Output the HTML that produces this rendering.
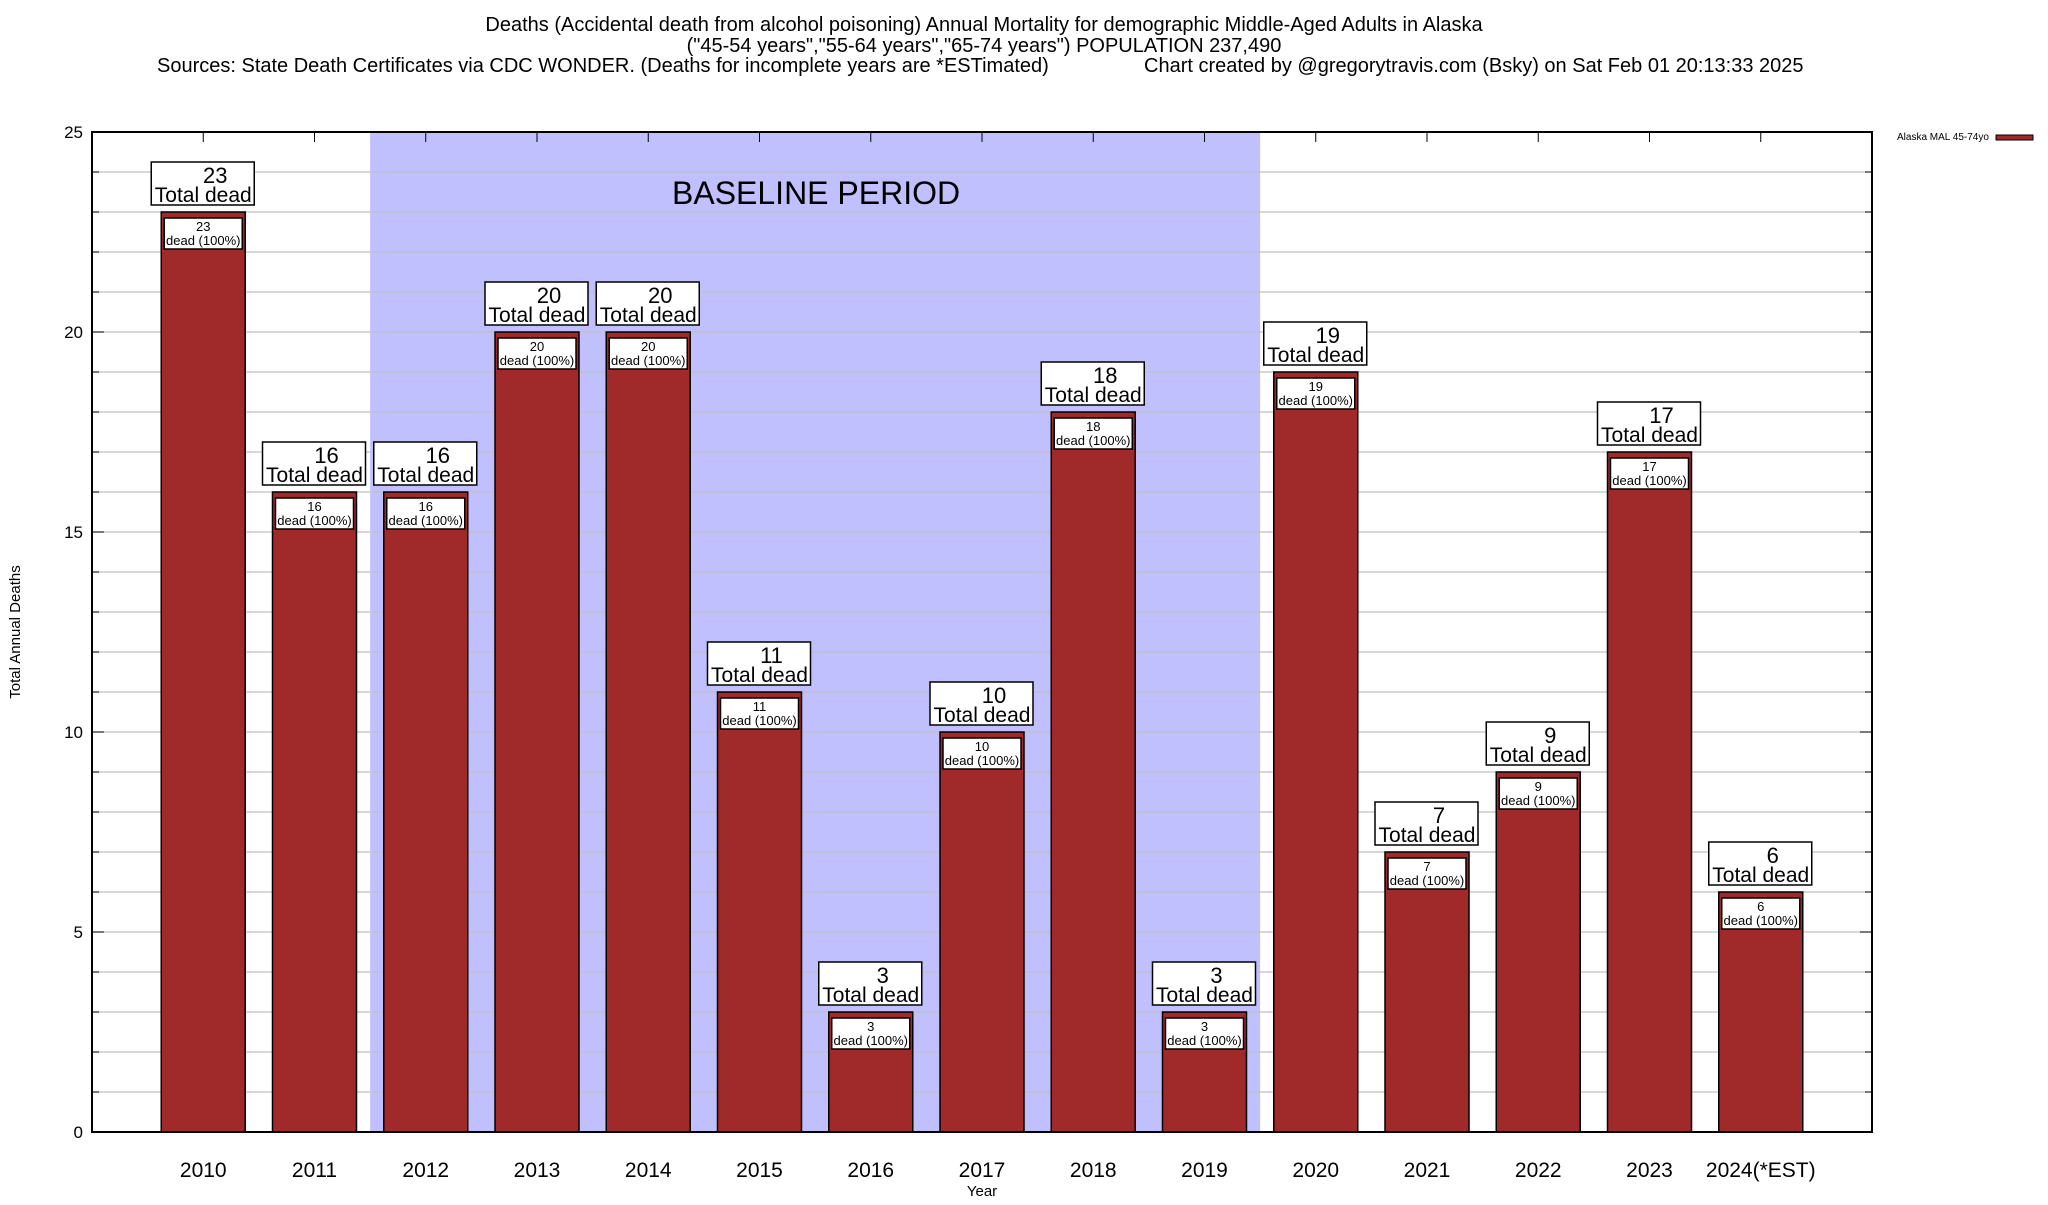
<!DOCTYPE html>
<html><head><meta charset="utf-8"><style>
body{margin:0;background:#fff;}
svg text{font-family:"Liberation Sans",sans-serif;}
</style></head><body>
<svg id="chart" width="2048" height="1200" viewBox="0 0 2048 1200" xmlns="http://www.w3.org/2000/svg">
<g font-size="20" text-anchor="middle">
<text x="984" y="31">Deaths (Accidental death from alcohol poisoning) Annual Mortality for demographic Middle-Aged Adults in Alaska</text>
<text x="984" y="52">("45-54 years","55-64 years","65-74 years") POPULATION 237,490</text>
<text x="157" y="72" text-anchor="start">Sources: State Death Certificates via CDC WONDER. (Deaths for incomplete years are *ESTimated)</text>
<text x="1144" y="72" text-anchor="start">Chart created by @gregorytravis.com (Bsky) on Sat Feb 01 20:13:33 2025</text>
</g>
<g id="plot"></g>
<text x="20" y="632" font-size="15" text-anchor="middle" transform="rotate(-90 20 632)">Total Annual Deaths</text>
<text x="982" y="1196" font-size="15" text-anchor="middle">Year</text>
<g>
<text x="1897" y="140" font-size="10">Alaska MAL 45-74yo</text>
<rect x="1996" y="135" width="37" height="5" fill="#a0292a" stroke="#000" stroke-width="1"/>
</g>
</svg>
<script>
const categories=["2010","2011","2012","2013","2014","2015","2016","2017","2018","2019","2020","2021","2022","2023","2024(*EST)"];
const deaths=[23,16,16,20,20,11,3,10,18,3,19,7,9,17,6];
const yTicks=[0,5,10,15,20,25];
const baselineStart=2, baselineEnd=9;
const L=92,R=1872,T=132,B=1132,yMax=25;
const slot=(R-L)/16;
const xs=i=>L+(i+1)*slot;
const ys=v=>B-(v/yMax)*(B-T);
const NS="http://www.w3.org/2000/svg";
const g=document.getElementById('plot');
function mk(t,a,p){const e=document.createElementNS(NS,t);for(const k in a)e.setAttribute(k,a[k]);(p||g).appendChild(e);return e;}
const sh=mk('rect',{x:xs(baselineStart)-slot/2,y:T,width:(baselineEnd-baselineStart+1)*slot,height:B-T,fill:'#c0c0ff'});


const bt=mk('text',{x:672,y:204,'font-size':32});bt.textContent='BASELINE PERIOD';


for(let v=1;v<yMax;v++){
  const gl=mk('line',{x1:L,x2:R,y1:ys(v),y2:ys(v),stroke:'#c0c0c0','stroke-width':1.2});
  
  
  mk('line',{x1:L,x2:L+7,y1:ys(v),y2:ys(v),stroke:'#000'});
  mk('line',{x1:R-7,x2:R,y1:ys(v),y2:ys(v),stroke:'#000'});
}
yTicks.forEach(v=>{
  mk('line',{x1:L,x2:L+12,y1:ys(v),y2:ys(v),stroke:'#000'});
  mk('line',{x1:R-12,x2:R,y1:ys(v),y2:ys(v),stroke:'#000'});
  const t=mk('text',{x:83,y:ys(v)+6,'font-size':17,'text-anchor':'end'});t.textContent=v;
  
  
});
const bw=84;
categories.forEach((c,i)=>{
  const x=xs(i),y=ys(deaths[i]);
  mk('line',{x1:x,x2:x,y1:T,y2:T+10,stroke:'#000'});
  const b=mk('rect',{x:x-bw/2,y:y,width:bw,height:B-y,fill:'#a0292a',stroke:'#000','stroke-width':1.5});
  
  
  const ib=mk('rect',{x:x-bw/2+3,y:y+6,width:bw-6,height:31,fill:'#fff',stroke:'#000','stroke-width':1.5});
  
  
  let t=mk('text',{x:x,y:y+19,'font-size':13,'text-anchor':'middle'});t.textContent=deaths[i];
  t=mk('text',{x:x,y:y+33,'font-size':13,'text-anchor':'middle'});t.textContent='dead (100%)';
  const ob=mk('rect',{x:x-52,y:y-50,width:103,height:43,fill:'#fff',stroke:'#000','stroke-width':1.5});
  
  
  t=mk('text',{x:x+12,y:y-29,'font-size':22,'text-anchor':'middle'});t.textContent=deaths[i];
  t=mk('text',{x:x,y:y-10,'font-size':21,'text-anchor':'middle'});t.textContent='Total dead';
  const xl=mk('text',{x:x,y:1177,'font-size':21,'text-anchor':'middle'});xl.textContent=c;
  
  
});
const fr=mk('rect',{x:L,y:T,width:R-L,height:B-T,fill:'none',stroke:'#000','stroke-width':2});


</script>
</body></html>
